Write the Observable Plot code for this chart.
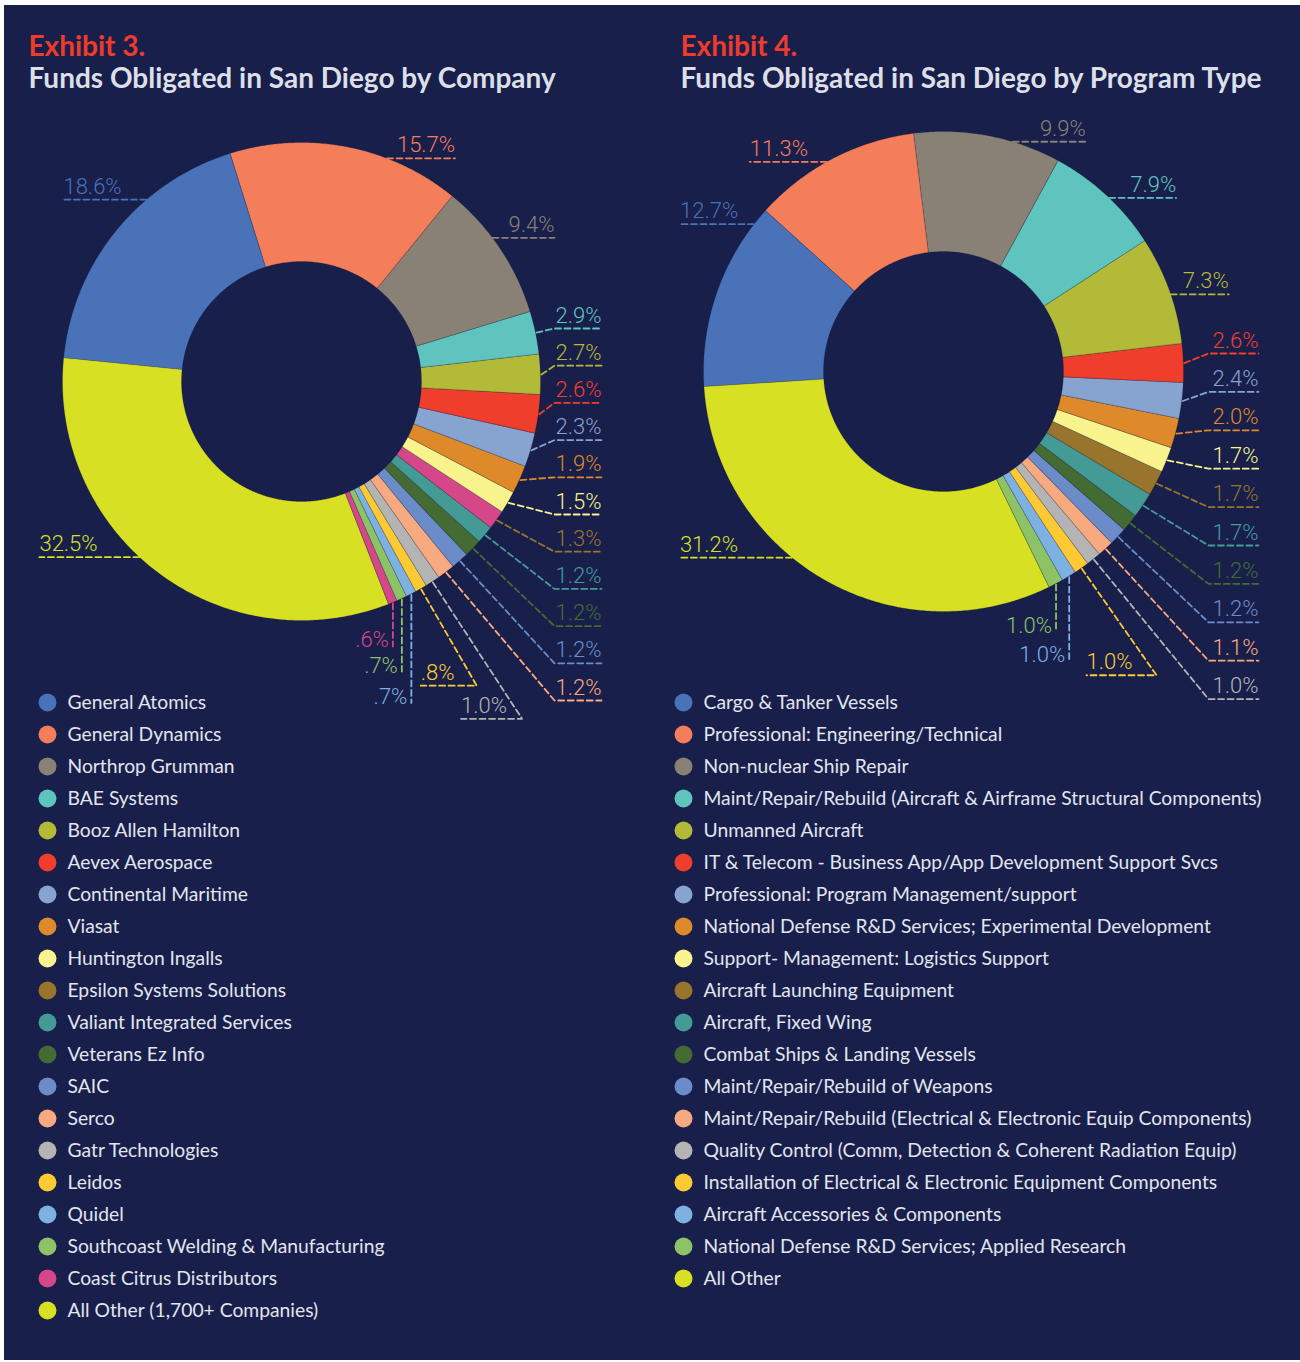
<!DOCTYPE html>
<html><head><meta charset="utf-8">
<script src="https://cdn.jsdelivr.net/npm/d3@7"></script>
<script src="https://cdn.jsdelivr.net/npm/@observablehq/plot@0.6"></script>
<style>
html,body{margin:0;padding:0;background:#ffffff;}
#panel{position:absolute;left:4px;top:5px;width:1296px;height:1355px;background:#181f4b;}
#chart{position:absolute;left:0;top:0;}
</style></head><body>
<div id="panel"></div><div id="chart"></div>
<script>
// ---------------- DATA ----------------
const companies = ["General Atomics","General Dynamics","Northrop Grumman","BAE Systems","Booz Allen Hamilton","Aevex Aerospace","Continental Maritime","Viasat","Huntington Ingalls","Epsilon Systems Solutions","Valiant Integrated Services","Veterans Ez Info","SAIC","Serco","Gatr Technologies","Leidos","Quidel","Southcoast Welding & Manufacturing","Coast Citrus Distributors","All Other (1,700+ Companies)"];
const companyShares = [18.6,15.7,9.4,2.9,2.7,2.6,2.3,1.9,1.5,1.3,1.2,1.2,1.2,1.2,1.0,0.8,0.7,0.7,0.6,32.5];

const programs = ["Cargo & Tanker Vessels","Professional: Engineering/Technical","Non-nuclear Ship Repair","Maint/Repair/Rebuild (Aircraft & Airframe Structural Components)","Unmanned Aircraft","IT & Telecom - Business App/App Development Support Svcs","Professional: Program Management/support","National Defense R&D Services; Experimental Development","Support- Management: Logistics Support","Aircraft Launching Equipment","Aircraft, Fixed Wing","Combat Ships & Landing Vessels","Maint/Repair/Rebuild of Weapons","Maint/Repair/Rebuild (Electrical & Electronic Equip Components)","Quality Control (Comm, Detection & Coherent Radiation Equip)","Installation of Electrical & Electronic Equipment Components","Aircraft Accessories & Components","National Defense R&D Services; Applied Research","All Other"];
const programShares = [12.7,11.3,9.9,7.9,7.3,2.6,2.4,2.0,1.7,1.7,1.7,1.2,1.2,1.1,1.0,1.0,1.0,1.0,31.2];

const titles = [["Exhibit 3.","Funds Obligated in San Diego by Company"],["Exhibit 4.","Funds Obligated in San Diego by Program Type"]];

// ---------------- STYLES ----------------
const companyColors = ["#4a72b8","#f47d5a","#898176","#5fc4bd","#b3ba38","#ef3e2b","#87a4d1","#de8a2a","#f8f38d","#98742d","#449b95","#446b33","#6b8cc9","#f7a97f","#b4b4b4","#fdca33","#7db1e1","#8dc366","#d6478a","#d7e023"];
const programColors = companyColors.filter((c,i)=>i!==18);
// in the original exhibit the Epsilon slice is drawn in the Coast Citrus pink
const companySliceColors = companyColors.map((c,i)=> i===9 ? companyColors[18] : c);

const BG = "#181f4b", TEXT = "#e2e5ee", RED = "#ef3b2c";
const LABEL_FONT = "Roboto", LABEL_SIZE = 22;

// layout hints for the two exhibits
const layout3 = {cx:301, cy:381, R:239, r:120, start:275.7, titleX:28, legendX:47,
  side:{0:{f:0.655,ext:83},1:{f:0.678,ext:68},2:{f:0.41,ext:62},19:{f:0.547,ext:100}},
  column:{from:3,to:13,x:601,y0:328,step:37.2,len:47},
  radial:{14:{len:163,under:61},15:{len:111,under:56}},
  drop:{16:108,17:72,18:43}};
const layout4 = {cx:943, cy:371, R:240, r:120, start:266.4, titleX:680, legendX:683,
  side:{0:{f:0.906,ext:74},1:{f:0.46,ext:77},2:{f:0.67,ext:73},3:{f:0.53,ext:67},4:{f:0.54,ext:58},18:{f:0.58,ext:112}},
  column:{from:5,to:14,x:1258,y0:353,step:38.4,len:50},
  radial:{15:{len:130,under:70}},
  drop:{16:84,17:47}};

const fmt = v => v < 1 ? v.toFixed(1).replace(/^0/,"") + "%" : v.toFixed(1) + "%";

const polys = [], leaders = [], labels = [], legendDots = [], legendTexts = [], titleTexts = [];

function build(key, names, shares, sliceColors, colors, L) {
  const {cx, cy, R, r} = L;
  const P = (deg, rad) => [cx + rad*Math.sin(deg*Math.PI/180), cy - rad*Math.cos(deg*Math.PI/180)];
  const total = d3.sum(shares);
  let acc = L.start;
  const slices = shares.map((v,i)=>{const a0=acc, a1=acc+v/total*360; acc=a1; return {i,v,a0,a1,mid:(a0+a1)/2};});
  // slices
  for (const s of slices) {
    const id = key+"-"+s.i, n = Math.max(2, Math.ceil((s.a1-s.a0)/0.5));
    for (let k=0;k<=n;k++){const [x,y]=P(s.a0+(s.a1-s.a0)*k/n,R); polys.push({id,x,y,fill:sliceColors[s.i]});}
    for (let k=n;k>=0;k--){const [x,y]=P(s.a0+(s.a1-s.a0)*k/n,r); polys.push({id,x,y,fill:sliceColors[s.i]});}
  }
  const line = (id, pts, c) => pts.forEach(([x,y])=>leaders.push({id,x,y,stroke:c}));
  const label = (x,y,v,c,anchor) => labels.push({x,y,text:fmt(v),fill:c,anchor});
  for (const s of slices) {
    const c = colors[s.i], id = key+"-L"+s.i;
    if (L.side[s.i]) {
      const h = L.side[s.i], th = s.a0 + h.f*(s.a1-s.a0);
      const [xa, ya] = P(th, R);
      const side = Math.sin(th*Math.PI/180) >= 0 ? 1 : -1;
      const xf = xa + side*h.ext;
      line(id, [[xa,ya],[xf,ya]], c);
      label(xf, ya-6, s.v, c, side>0 ? "end" : "start");
    } else if (s.i >= L.column.from && s.i <= L.column.to) {
      const C = L.column, y = C.y0 + (s.i-C.from)*C.step;
      const th = Math.acos((cy - y)/R)*180/Math.PI; // right-side angle where row meets the circle
      if (th >= s.a0 && th <= s.a1) {
        const xa = cx + Math.sqrt(R*R-(y-cy)*(y-cy));
        line(id, [[xa,y],[C.x,y]], c);
      } else {
        const [xm, ym] = P(s.mid, R+1);
        line(id, [[xm,ym],[C.x-C.len,y],[C.x,y]], c);
      }
      label(C.x, y-6, s.v, c, "end");
    } else if (L.radial[s.i]) {
      const h = L.radial[s.i];
      const [xm, ym] = P(s.mid, R+1), [xe, ye] = P(s.mid, R+1+h.len);
      line(id, [[xm,ym],[xe,ye],[xe-h.under,ye]], c);
      label(xe-h.under, ye-6, s.v, c, "start");
    } else if (L.drop[s.i]) {
      const [xm, ym] = P(s.mid, R+1), ye = ym + L.drop[s.i];
      line(id, [[xm,ym],[xm,ye]], c);
      label(xm-4, ye+1, s.v, c, "end");
    }
  }
  // legend
  names.forEach((nm,i)=>{
    legendDots.push({x:L.legendX, y:702+i*32, fill:colors[i]});
    legendTexts.push({x:L.legendX+20, y:702+i*32, text:nm});
  });
}
build("c", companies, companyShares, companySliceColors, companyColors, layout3);
build("p", programs, programShares, programColors, programColors, layout4);
[layout3, layout4].forEach((L,i)=>{
  titleTexts.push({x:L.titleX, y:55, text:titles[i][0], fill:RED});
  titleTexts.push({x:L.titleX, y:87, text:titles[i][1], fill:"#dcdfe8"});
});

const W = 1300, H = 1362;
const chart = Plot.plot({
  width: W, height: H, margin: 0,
  x: {domain:[0,W], range:[0,W], axis:null},
  y: {domain:[0,H], range:[0,H], axis:null},
  color: {type:"identity"},
  style: {background:"transparent", overflow:"visible"},
  marks: [
    Plot.line(polys, {x:"x", y:"y", z:"id", fill:"fill", stroke:"#10163a", strokeOpacity:0.35, strokeWidth:0.6, curve:"linear-closed"}),
    Plot.line(leaders, {x:"x", y:"y", z:"id", stroke:"stroke", strokeWidth:1.8, strokeDasharray:"6,3.5", curve:"linear"}),
    Plot.text(labels.filter(d=>d.anchor==="end"), {x:"x", y:"y", text:"text", fill:"fill", textAnchor:"end", lineAnchor:"bottom", fontFamily:LABEL_FONT, fontWeight:300, fontSize:LABEL_SIZE}),
    Plot.text(labels.filter(d=>d.anchor==="start"), {x:"x", y:"y", text:"text", fill:"fill", textAnchor:"start", lineAnchor:"bottom", fontFamily:LABEL_FONT, fontWeight:300, fontSize:LABEL_SIZE}),
    Plot.dot(legendDots, {x:"x", y:"y", r:9, fill:"fill"}),
    Plot.text(legendTexts, {x:"x", y:"y", text:"text", fill:TEXT, textAnchor:"start", lineAnchor:"middle", fontFamily:"Lato", fontSize:19.3}),
    Plot.text(titleTexts, {x:"x", y:"y", text:"text", fill:"fill", textAnchor:"start", lineAnchor:"bottom", fontFamily:"Lato", fontWeight:700, fontSize:28})
  ]
});
document.getElementById("chart").appendChild(chart);
</script>
</body></html>
